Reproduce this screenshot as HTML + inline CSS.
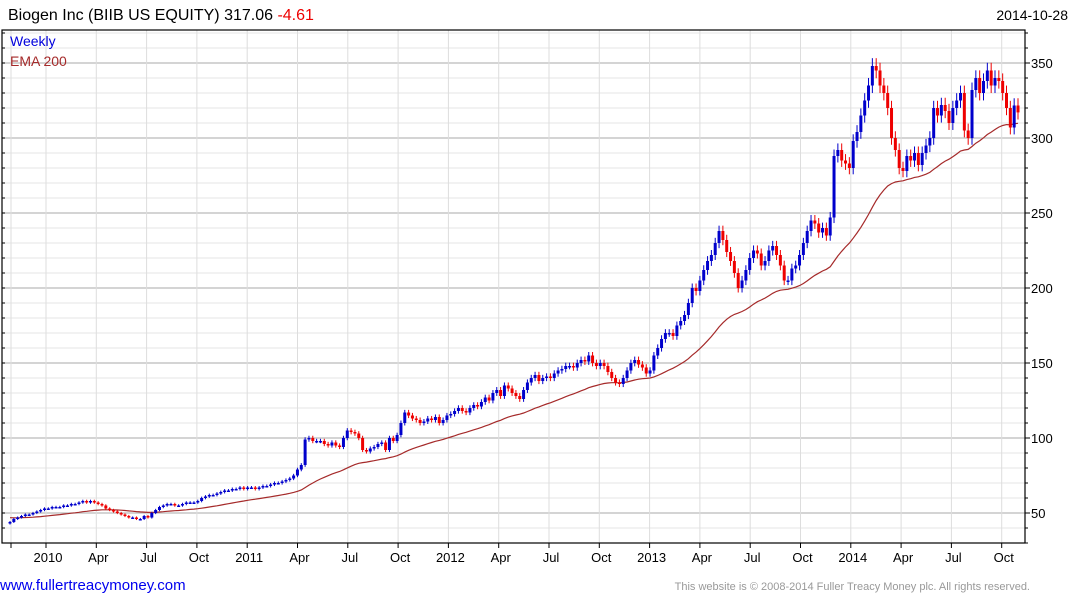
<!DOCTYPE html>
<html><head><meta charset="utf-8">
<style>
body{margin:0;background:#fff;width:1075px;height:600px;overflow:hidden;font-family:"Liberation Sans",Arial,sans-serif;}
svg text{font-family:"Liberation Sans",Arial,sans-serif;}
</style></head>
<body>
<svg id="chart" width="1075" height="600" xmlns="http://www.w3.org/2000/svg">
<text x="8" y="20" font-size="16" fill="#000">Biogen Inc (BIIB US EQUITY) 317.06 <tspan fill="#e00">-4.61</tspan></text>
<text x="1068" y="20" font-size="14" fill="#000" text-anchor="end">2014-10-28</text>
<g id="grid"></g>
<g id="ema"></g>
<g id="candles"></g>
<g id="axes"></g>
<text x="10" y="46" font-size="14" fill="#0000dd">Weekly</text>
<text x="10" y="66" font-size="14" fill="#a52a2a">EMA 200</text>
<text x="0" y="590" font-size="15" fill="#0000ee">www.fullertreacymoney.com</text>
<text x="1030" y="590" font-size="11" fill="#999" text-anchor="end">This website is © 2008-2014 Fuller Treacy Money plc. All rights reserved.</text>
</svg>
<script>
const closes = [44,46,47,48,49,49,50,51,52,53,
53,54,54,54,55,55,56,56,57,58,57,58,57,
56,55,53,52,51,50,49,48,47,47,46,46,48,
47,50,52,54,55,56,56,55,55,56,57,57,57,
58,60,61,62,62,63,64,65,65,66,66,67,66,
67,67,66,67,68,68,69,70,70,71,72,73,75,
79,82,99,100,98,98,98,96,95,97,95,94,100,
105,104,103,100,92,91,93,94,96,97,92,100,98,
102,110,117,115,113,112,110,111,113,112,114,110,112,
115,116,118,120,118,117,120,122,121,124,127,125,130,
132,128,135,133,130,128,126,132,137,140,142,138,140,
141,140,143,145,146,148,148,147,150,152,151,155,150,
148,150,148,144,140,137,136,140,145,150,152,149,147,
143,145,155,160,166,170,170,168,175,178,182,190,200,
198,205,212,218,222,230,238,232,224,218,210,200,205,
212,220,225,223,215,218,225,228,222,215,205,205,213,
215,222,230,238,245,243,237,240,235,247,288,292,285,
283,280,298,304,315,325,335,348,345,335,330,320,300,
292,280,278,288,285,290,282,290,295,300,320,315,322,
318,310,320,325,330,305,300,332,340,330,338,345,335,
340,338,330,320,307,321.67,317.06];
const firstOpen = 43;
const yTicks = [50,100,150,200,250,300,350];
const xTickLabels = ["","2010","Apr","Jul","Oct","2011","Apr","Jul","Oct","2012","Apr","Jul","Oct","2013","Apr","Jul","Oct","2014","Apr","Jul","Oct"];
const emaSeed = 47;

const NS="http://www.w3.org/2000/svg";
const L=2,R=1025,T=30,B=543;
const yS=v=>513-(v-50)*1.5;
const xS=i=>10+i*(1008/(closes.length-1));
const qx=q=>q===0?11:46+(q-1)*50.3;
function mk(tag,at,parent){const e=document.createElementNS(NS,tag);for(const k in at)e.setAttribute(k,at[k]);parent.appendChild(e);return e;}
const grid=document.getElementById('grid'),axes=document.getElementById('axes'),cg=document.getElementById('candles'),eg=document.getElementById('ema');
for(let v=30;v<=370;v+=10){const y=yS(v);if(y<T||y>B)continue;const major=v%50===0;
 const ln=mk('line',{x1:L,x2:R,y1:y,y2:y,stroke:major?'#bbb':'#e6e6e6','stroke-width':major?1.3:1},grid);
 
 
 const tk=mk('line',{x1:R,x2:R+(major?5:3),y1:y,y2:y,stroke:'#000'},axes);
 
 
 const tl=mk('line',{x1:L,x2:L+3,y1:y,y2:y,stroke:'#000'},axes);
 
 
}
yTicks.forEach(v=>{const t=mk('text',{x:1031,y:yS(v)+5,'font-size':13,fill:'#000'},axes);t.textContent=v;
 
 });
xTickLabels.forEach((lab,q)=>{const x=qx(q);
 const g=mk('line',{x1:x,x2:x,y1:T,y2:B,stroke:'#ddd'},grid);
 
 
 const tk=mk('line',{x1:x,x2:x,y1:B,y2:B+5,stroke:'#000'},axes);
 
 
 if(lab){const t=mk('text',{x:x+2,y:562,'font-size':13,fill:'#000','text-anchor':'middle'},axes);t.textContent=lab;
 
 }
});
const fr=mk('rect',{x:L,y:T,width:R-L,height:B-T,fill:'none',stroke:'#000','stroke-width':1.2},axes);


let e=emaSeed,pts=[];const a=2/41;
closes.forEach((c,i)=>{e=e+a*(c-e);pts.push(xS(i).toFixed(1)+','+yS(e).toFixed(1));});
const pl=mk('polyline',{points:pts.join(' '),fill:'none',stroke:'#a52a2a','stroke-width':1.2},eg);


closes.forEach((c,i)=>{const o=i?closes[i-1]:firstOpen;const up=c>=o;const col=up?'#0000cc':'#ee0000';
 const hi=Math.max(o,c)*1.015,lo=Math.min(o,c)*0.985,x=xS(i);
 const g=mk('g',{},cg);
 
 
 mk('line',{x1:x,x2:x,y1:yS(hi),y2:yS(lo),stroke:col,'stroke-width':1},g);
 const top=yS(Math.max(o,c)),h=Math.max(1.5,yS(Math.min(o,c))-top);
 mk('rect',{x:x-1.5,y:top,width:3,height:h,fill:col},g);
});
</script>
</body></html>
